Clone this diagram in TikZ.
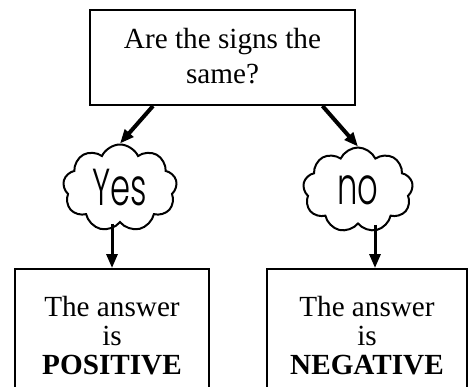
\documentclass[tikz,border=0pt]{standalone}
\usepackage{fontspec}
\setmainfont{Liberation Serif}
\IfFontExistsTF{Poppins Light}
  {\newfontfamily\handfont{Poppins Light}[FakeStretch=0.62]}
  {\newfontfamily\handfont{Poppins}[FakeStretch=0.62]}
\usepackage{tikz}
\usetikzlibrary{arrows.meta,shapes.symbols,positioning}

\begin{document}
\begin{tikzpicture}[
    x = 0.5pt, y = -0.5pt, % one unit is one pixel of the sketch
    > = {Triangle[length=7pt,width=5.5pt]}, % arrow head style
    line width = 1pt
    ]

    \tikzset{box/.style={
    draw = black,
    align = center,
    inner sep = 0pt,
    font = \fontsize{14.6}{17.5}\selectfont
    }}
    \tikzset{bubble/.style={
    draw = black,
    cloud, cloud puffs = 9, cloud puff arc = 130,
    cloud ignores aspect,
    minimum width = 57pt, minimum height = 43.5pt,
    inner sep = 0pt,
    font = \handfont\fontsize{26}{30}\selectfont
    }}
    \tikzset{answer/.style={
    box,
    anchor = north,
    minimum height = 67pt,
    font = \fontsize{14.6}{14.5}\selectfont
    }}

    \useasboundingbox (0,0) rectangle (470,386);

    \node[box, minimum width=132.5pt, minimum height=47.5pt, text depth=1.5pt] (signs) at (222.5,57.5) {Are the signs the\\same?};
    \node[bubble] (yes) at (120,188) {Yes};
    \node[bubble, minimum width=55pt, minimum height=42.5pt] (no) at (358,190) {no};
    \node[answer, minimum width=97pt] (pos) at (112,268) {The answer\\is\\\textbf{POSITIVE}};
    \node[answer, minimum width=100pt] (neg) at (367,268) {The answer\\is\\\textbf{NEGATIVE}};
    \coordinate (negin) at ([xshift=4pt]neg.north);

    \draw[->, line width=2pt] ([xshift=-34.75pt]signs.south) -- (yes.north);
    \draw[->, line width=2pt] ([xshift=50pt]signs.south) -- (no.north);
    \draw[->, line width=1.5pt] (yes.south -| pos.north) -- (pos.north);
    \draw[->, line width=1.5pt] (no.south -| negin) -- (negin);
\end{tikzpicture}
\end{document}
